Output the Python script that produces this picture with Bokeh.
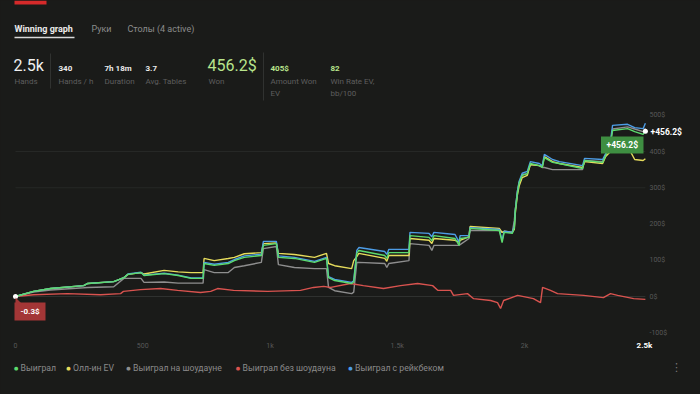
from bokeh.plotting import figure
from bokeh.models import Range1d, Label
from bokeh.embed import file_html
from bokeh.resources import INLINE

# ---------------- data ----------------
HANDS = [0, 71, 138, 268, 284, 386, 426, 442, 493, 505, 584, 639, 690, 737, 741, 781, 836, 860, 899, 966,
         974, 1025, 1033, 1096, 1175, 1222, 1230, 1254, 1321, 1329, 1341, 1349, 1451, 1459, 1467, 1546, 1550,
         1625, 1636, 1644, 1727, 1743, 1747, 1782, 1786, 1901, 1912, 1920, 1952, 1960, 1964, 1972, 1979, 1991,
         2011, 2023, 2058, 2070, 2078, 2110, 2137, 2228, 2236, 2307, 2319, 2338, 2346, 2405, 2433, 2466, 2475]
WON = [0, 14, 22, 30, 36, 41, 52, 61, 66, 58, 63, 58, 50, 50, 91, 86, 91, 99, 108, 113,
       141, 146, 108, 105, 94, 105, 52, 44, 36, 40, 119, 127, 113, 105, 121, 121, 168,
       163, 154, 168, 160, 141, 160, 163, 188, 182, 149, 177, 174, 190, 237, 284, 314, 334,
       339, 367, 361, 356, 383, 370, 367, 353, 375, 370, 389, 422, 458, 463, 455, 447, 456.2]
ALLIN_EV = [0, 14, 22, 30, 36, 41, 52, 61, 66, 62, 72, 68, 66, 66, 105, 99, 105, 108, 118, 121,
            146, 148, 119, 116, 108, 119, 91, 85, 77, 99, 110, 119, 105, 97, 113, 113, 160,
            155, 146, 160, 155, 150, 155, 165, 193, 188, 177, 180, 177, 185, 230, 280, 305, 328,
            334, 364, 361, 358, 386, 372, 367, 356, 372, 367, 386, 400, 410, 415, 378, 375, 380]
SHOWDOWN = [0, 12, 18, 24, 25, 27, 50, 50, 50, 39, 40, 37, 37, 37, 74, 66, 66, 80, 85, 94,
            132, 138, 88, 80, 77, 77, 25, 16, 8, 12, 94, 94, 91, 80, 91, 99, 146,
            141, 127, 141, 141, 141, 143, 160, 182, 182, 177, 177, 177, 210, 240, 290, 314, 336,
            339, 364, 361, 356, 356, 350, 350, 350, 375, 372, 389, 425, 462, 468, 462, 455, 464]
RAKEBACK = [0, 14, 22, 30, 36, 41, 52, 62, 67, 59, 64, 59, 51, 51, 94, 89, 94, 102, 112, 117,
            152, 152, 112, 108, 97, 108, 55, 47, 39, 43, 127, 135, 124, 116, 130, 130, 177,
            174, 165, 177, 171, 150, 168, 168, 190, 185, 155, 180, 177, 193, 240, 290, 318, 340,
            345, 372, 367, 361, 392, 378, 372, 361, 381, 378, 394, 430, 472, 475, 466, 463, 478]
NS_HANDS = [0, 71, 204, 334, 413, 424, 491, 570, 637, 727, 767, 794, 857, 991, 1120, 1171, 1211, 1239,
            1316, 1367, 1446, 1513, 1580, 1639, 1659, 1710, 1721, 1776, 1800, 1867, 1894, 1906, 1918,
            1973, 2035, 2063, 2071, 2102, 2130, 2232, 2310, 2338, 2366, 2429, 2475]
NON_SHOWDOWN = [0, 5, 8, 5, 8, 14, 19, 22, 17, 11, 14, 22, 17, 14, 17, 25, 28, 25,
                36, 30, 22, 30, 36, 30, 17, 17, 3, 8, -6, -11, -17, -33, -11,
                3, -6, -17, 25, 17, 8, 3, -3, 8, 3, -6, -8]

SERIES_NAMES = ["Выиграл", "Олл-ин EV", "Выиграл на шоудауне", "Выиграл без шоудауна", "Выиграл с рейкбеком"]
SERIES_COLORS = ["#5cdb6e", "#e6dc5c", "#8e8e8e", "#d9534f", "#4d9de6"]

X_TICKS = [0, 500, 1000, 1500, 2000]
X_TICK_LABELS = ["0", "500", "1k", "1.5k", "2k"]
Y_TICKS = [-100, 0, 100, 200, 300, 400, 500]
Y_TICK_LABELS = ["-100$", "0$", "100$", "200$", "300$", "400$", "500$"]
GRID_LEVELS = [0, 300, 400]

CURRENT_HANDS_LABEL = "2.5k"
START_LABEL = "-0.3$"
END_LABEL = "+456.2$"

TABS = ["Winning graph", "Руки", "Столы (4 active)"]
STAT_VALUES = ["2.5k", "340", "7h 18m", "3.7", "456.2$", "405$", "82"]
STAT_NAMES = ["Hands", "Hands / h", "Duration", "Avg. Tables", "Won", "Amount Won\nEV", "Win Rate EV,\nbb/100"]

# ---------------- style ----------------
BG = "#1a1b19"
FONT = "Roboto"
W, H = 700, 394
PX_PER_HAND = 0.2545
PX_PER_USD = 0.3625
X0_PX, Y0_PX = 15, 296

p = figure(width=W, height=H, output_backend="svg", toolbar_location=None,
           x_range=Range1d(-X0_PX / PX_PER_HAND, (W - X0_PX) / PX_PER_HAND),
           y_range=Range1d((Y0_PX - H) / PX_PER_USD, Y0_PX / PX_PER_USD),
           x_axis_location=None, y_axis_location=None,
           min_border=0, background_fill_color=BG, border_fill_color=BG, outline_line_color=None)
p.extra_x_ranges = {"px": Range1d(0, W)}
p.extra_y_ranges = {"py": Range1d(H, 0)}
p.grid.visible = False

# horizontal grid lines across the data span
p.segment(x0=[HANDS[0]] * len(GRID_LEVELS), x1=[HANDS[-1]] * len(GRID_LEVELS),
          y0=GRID_LEVELS, y1=GRID_LEVELS,
          line_color=["#2f312f", "#262826", "#262826"], line_width=1)

# tick labels (through the data scales)
p.text(x=[649] * len(Y_TICKS), y=Y_TICKS, text=Y_TICK_LABELS, x_range_name="px",
       text_color="#585858", text_font_size="7px", text_font={"value": FONT},
       text_align="left", text_baseline="middle")
p.text(x=X_TICKS, y=[345] * len(X_TICKS), text=X_TICK_LABELS, y_range_name="py",
       text_color="#585858", text_font_size="7px", text_font={"value": FONT},
       text_align="center", text_baseline="middle")

# series lines
LW = 1.4
p.line(HANDS, SHOWDOWN, line_color=SERIES_COLORS[2], line_width=LW)
p.line(NS_HANDS, NON_SHOWDOWN, line_color=SERIES_COLORS[3], line_width=LW)
p.line(HANDS, ALLIN_EV, line_color=SERIES_COLORS[1], line_width=LW)
p.line(HANDS, RAKEBACK, line_color=SERIES_COLORS[4], line_width=LW)
p.line(HANDS, WON, line_color=SERIES_COLORS[0], line_width=LW)

# start/end markers
p.scatter([HANDS[0], HANDS[-1]], [WON[0], WON[-1]], size=5, fill_color="#ffffff", line_color=None)


def lab(text, x, y, color, size, bold=False, align="left", font=FONT):
    p.add_layout(Label(x=x, y=y, x_range_name="px", y_range_name="py", text=text,
                       text_color=color, text_font_size=f"{size}px",
                       text_font_style="bold" if bold else "normal",
                       text_align=align, text_baseline="middle", text_font=font))


# tags
p.quad(left=[14], right=[45], top=[302], bottom=[320], fill_color="#a33636", line_color=None,
       x_range_name="px", y_range_name="py")
p.patch([15, 15, 21], [297, 303, 303], fill_color="#a33636", line_color=None,
        x_range_name="px", y_range_name="py")
lab(START_LABEL, 29.5, 311, "#ffffff", 8, bold=True, align="center")

p.quad(left=[600.5], right=[643], top=[136], bottom=[153], fill_color="#3e8e41", line_color=None,
       x_range_name="px", y_range_name="py")
lab(END_LABEL, 621.8, 144.5, "#ffffff", 8.5, bold=True, align="center")

lab(END_LABEL, 650, 131, "#ffffff", 8.5, bold=True)
lab(CURRENT_HANDS_LABEL, 644, 345, "#ffffff", 8, bold=True, align="center")

# top logo fragment
p.quad(left=[14], right=[46], top=[0], bottom=[4], fill_color="#d62a2a", line_color=None,
       x_range_name="px", y_range_name="py")

# header tabs
lab(TABS[0], 14, 28, "#ececec", 9, bold=True)
lab(TABS[1], 91, 28, "#8c8c8c", 9)
lab(TABS[2], 127, 28, "#8c8c8c", 9)
p.segment(x0=[14], y0=[37], x1=[74], y1=[37], line_color="#d8d8d8", line_width=1.5,
          x_range_name="px", y_range_name="py")

# stats
p.segment(x0=[50, 263], y0=[53, 52], x1=[50, 263], y1=[88, 100], line_color="#303230", line_width=1,
          x_range_name="px", y_range_name="py")
lab(STAT_VALUES[0], 13, 65, "#f0f0f0", 16)
lab(STAT_VALUES[1], 58, 68, "#ececec", 8, bold=True)
lab(STAT_VALUES[2], 104, 68, "#ececec", 8, bold=True)
lab(STAT_VALUES[3], 145, 68, "#ececec", 8, bold=True)
lab(STAT_VALUES[4], 207, 65, "#b9e58c", 16)
lab(STAT_VALUES[5], 270, 68, "#b9e58c", 8, bold=True)
lab(STAT_VALUES[6], 330, 68, "#b9e58c", 8, bold=True)
name_x = [14, 58, 104, 145, 208, 270, 330]
for nx, nm in zip(name_x, STAT_NAMES):
    for k, line in enumerate(nm.split("\n")):
        lab(line, nx, 81 + 12 * k, "#5e5e5e", 8)

# legend
dot_x = [15.6, 68, 128, 237.5, 350]
for dx, nm, col in zip(dot_x, SERIES_NAMES, SERIES_COLORS):
    lab("●", dx, 367, col, 5, align="center", font="DejaVu Sans")
    lab(nm, dx + 4.5, 367, "#8a8a8a", 8.7)
lab("⋮", 676, 367, "#7a7a7a", 11, align="center", font="DejaVu Sans")

html = file_html(p, INLINE)
html = html.replace("<head>", "<head><style>html,body{background:#1a1b19;}</style>", 1)
open("out.html", "w").write(html)
